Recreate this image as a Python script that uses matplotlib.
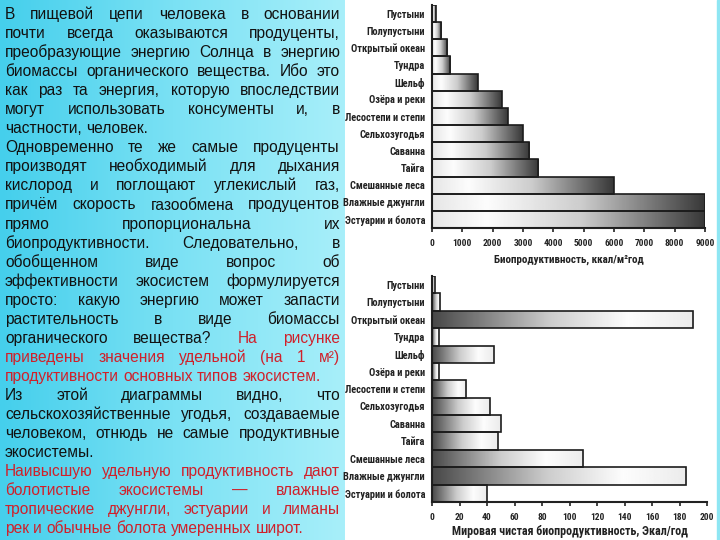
import numpy as np
import matplotlib
matplotlib.use('Agg')
import matplotlib.pyplot as plt
from matplotlib import font_manager
from matplotlib.colors import LinearSegmentedColormap
from matplotlib.patches import Rectangle

categories = ['Пустыни', 'Полупустыни', 'Открытый океан', 'Тундра', 'Шельф',
              'Озёра и реки', 'Лесостепи и степи', 'Сельхозугодья', 'Саванна',
              'Тайга', 'Смешанные леса', 'Влажные джунгли', 'Эстуарии и болота']
specific_kcal = [120, 300, 500, 600, 1500, 2300, 2500, 3000, 3200, 3500, 6000, 9000, 9000]
world_ekcal = [2, 6, 190, 5, 45, 5, 25, 42, 50, 48, 110, 185, 40]
top_ticks = list(range(0, 9001, 1000))
bottom_ticks = list(range(0, 201, 20))
top_xlabel = 'Биопродуктивность, ккал/м²год'
bottom_xlabel = 'Мировая чистая биопродуктивность, Экал/год'

# (black part, red part, justify)
text_lines = [
    ('В пищевой цепи человека в основании', '', True),
    ('почти всегда оказываются продуценты,', '', True),
    ('преобразующие энергию Солнца в энергию', '', True),
    ('биомассы органического вещества. Ибо это', '', True),
    ('как раз та энергия, которую впоследствии', '', True),
    ('могут использовать консументы и, в', '', True),
    ('частности, человек.', '', False),
    ('Одновременно те же самые продуценты', '', True),
    ('производят необходимый для дыхания', '', True),
    ('кислород и поглощают углекислый газ,', '', True),
    ('причём скорость газообмена продуцентов', '', True),
    ('прямо пропорциональна их', '', True),
    ('биопродуктивности. Следовательно, в', '', True),
    ('обобщенном виде вопрос об', '', True),
    ('эффективности экосистем формулируется', '', True),
    ('просто: какую энергию может запасти', '', True),
    ('растительность в виде биомассы', '', True),
    ('органического вещества?', 'На рисунке', True),
    ('', 'приведены значения удельной (на 1 м²)', True),
    ('', 'продуктивности основных типов экосистем.', False),
    ('Из этой диаграммы видно, что', '', True),
    ('сельскохозяйственные угодья, создаваемые', '', True),
    ('человеком, отнюдь не самые продуктивные', '', True),
    ('экосистемы.', '', False),
    ('', 'Наивысшую удельную продуктивность дают', True),
    ('', 'болотистые экосистемы — влажные', True),
    ('', 'тропические джунгли, эстуарии и лиманы', True),
    ('', 'рек и обычные болота умеренных широт.', False),
]

W, H = 720, 540
TEXT_BLACK = '#111111'
TEXT_RED = '#d0202a'
AX_COLOR = '#222222'


def pick_font(names):
    for n in names:
        try:
            font_manager.findfont(n, fallback_to_default=False)
            return n
        except Exception:
            continue
    return 'DejaVu Sans'


BODY_FONT = pick_font(['Liberation Sans', 'Arial'])
CHART_FONT = pick_font(['Liberation Sans Narrow', 'Roboto Condensed', 'Liberation Sans'])

fig = plt.figure(figsize=(7.2, 5.4), dpi=100)
fig.patch.set_facecolor('white')
renderer = fig.canvas.get_renderer()


def fit_size(text, target_px, weight='bold'):
    # font size at which the text is about target_px wide
    t = fig.text(0, 0, text, fontsize=10, family=CHART_FONT, fontweight=weight)
    w = t.get_window_extent(renderer).width
    t.remove()
    return 10 * target_px / w


def draw_justified(lines, x0, x1, y0, step, size):
    space = 0.278 * size * fig.dpi / 72
    for i, (black, red, justify) in enumerate(lines):
        words = [(w, TEXT_BLACK) for w in black.split()] + \
                [(w, TEXT_RED) for w in red.split()]
        y = 1 - (y0 + i * step) / H
        texts = [fig.text(0, y, w, color=c, fontsize=size, family=BODY_FONT,
                          va='baseline', ha='left') for w, c in words]
        widths = [t.get_window_extent(renderer).width for t in texts]
        if justify and len(texts) > 1:
            gap = (x1 - x0 - sum(widths)) / (len(texts) - 1)
        else:
            gap = space
        x = x0
        for t, w in zip(texts, widths):
            t.set_x(x / W)
            x += w + gap


def gradient_bars(ax, values, stops, shades):
    y = np.arange(len(values))
    bars = ax.barh(y, values, height=1.0, color='none', edgecolor='#1c1c1c',
                   linewidth=1.2, zorder=3)
    t = np.linspace(0, 1, 256)
    img = np.interp(t, stops, shades)[np.newaxis, :]
    for bar in bars:
        bx, by = bar.get_x(), bar.get_y()
        bw, bh = bar.get_width(), bar.get_height()
        im = ax.imshow(img, extent=(bx, bx + bw, by + bh, by), cmap='gray',
                       vmin=0, vmax=1, aspect='auto', zorder=2,
                       interpolation='bilinear')
        im.set_clip_path(bar)


cat_size = fit_size('Эстуарии и болота', 81)
tick_size = fit_size('9000', 19)


def style_axis(ax, ticks, xlabel, label_px, label_y_px, ax_h_px):
    ax.set_xlim(ticks[0], ticks[-1])
    ax.set_ylim(len(categories) - 0.5, -0.5)
    ax.set_yticks(np.arange(len(categories)))
    ax.set_yticklabels(categories, fontsize=cat_size, fontweight='bold',
                       family=CHART_FONT, color=AX_COLOR)
    ax.set_xticks(ticks)
    ax.set_xticklabels([str(v) for v in ticks], fontsize=tick_size,
                       fontweight='bold', family=CHART_FONT, color=AX_COLOR)
    ax.tick_params(axis='y', length=0, pad=5)
    ax.tick_params(axis='x', length=3, width=1.2, color=AX_COLOR, pad=5)
    for s in ['top', 'right']:
        ax.spines[s].set_visible(False)
    for s in ['left', 'bottom']:
        ax.spines[s].set_color(AX_COLOR)
        ax.spines[s].set_linewidth(1.5)
    ax.set_xlabel(xlabel, fontsize=fit_size(xlabel, label_px), fontweight='bold',
                  family=CHART_FONT, color=AX_COLOR)
    ax.xaxis.label.set_va('center')
    ax.xaxis.set_label_coords(0.5, -label_y_px / ax_h_px)
    ax.set_facecolor('none')


# cyan panel behind the text
bg = fig.add_axes([0, 0, 345 / W, 1], zorder=-5)
cyan = LinearSegmentedColormap.from_list('cyan', ['#45cfec', '#7ae1f4', '#a8effa'])
bg.imshow(np.linspace(0, 1, 200)[np.newaxis, :], cmap=cyan, aspect='auto',
          extent=(0, 1, 0, 1))
bg.axis('off')
fig.add_artist(Rectangle((717 / W, 0), 3 / W, 1, transform=fig.transFigure,
                         color='#8fe6f3', zorder=-4))

draw_justified(text_lines, 5, 340, 19, 19.05, 11.2)

ax1 = fig.add_axes([432 / W, 1 - 228 / H, 273 / W, 223 / H])
gradient_bars(ax1, specific_kcal, [0, 0.2, 0.55, 1], [0.9, 0.99, 0.8, 0.22])
style_axis(ax1, top_ticks, top_xlabel, 150, 32, 223)

ax2 = fig.add_axes([432 / W, 1 - 502 / H, 275 / W, 226 / H])
gradient_bars(ax2, world_ekcal, [0, 0.45, 0.75, 1], [0.28, 0.8, 0.99, 0.92])
style_axis(ax2, bottom_ticks, bottom_xlabel, 236, 29, 226)

fig.savefig('out.png', dpi=100)
